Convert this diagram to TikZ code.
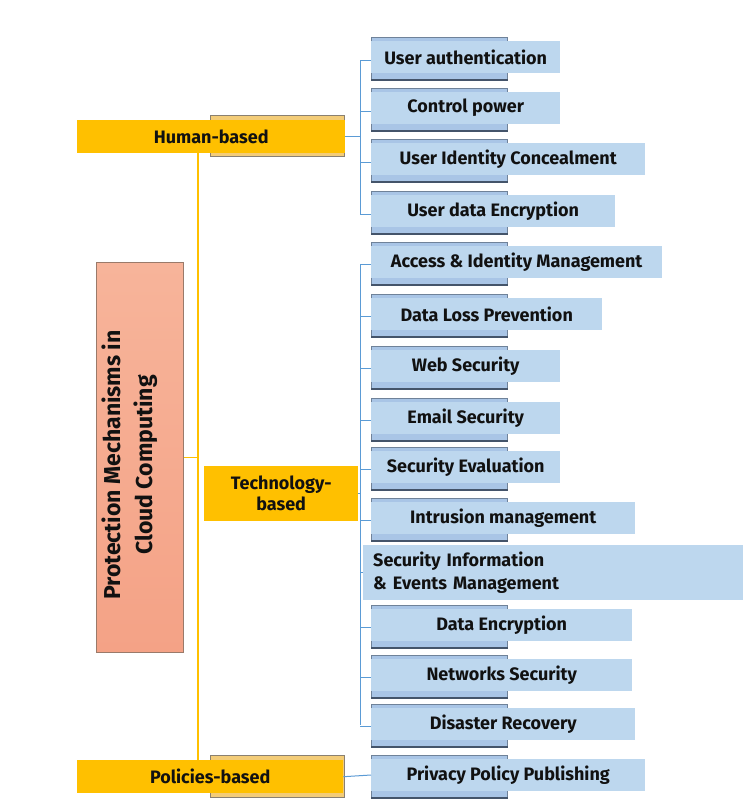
\documentclass[tikz,border=0pt]{standalone}
\usepackage{fontspec}
\setmainfont{Fira Sans}
\definecolor{barorange}{HTML}{FFC000}
\definecolor{backorange}{HTML}{F3CC78}
\definecolor{backedge}{HTML}{8A8070}
\definecolor{leaffront}{HTML}{BDD7EE}
\definecolor{leafback}{HTML}{A9C5E6}
\definecolor{leafedge}{HTML}{6F8299}
\definecolor{leafbase}{HTML}{44546A}
\definecolor{linkblue}{HTML}{5B9BD5}
\definecolor{rootfill}{HTML}{F4A286}
\definecolor{rootlight}{HTML}{F7B49A}
\definecolor{rootedge}{HTML}{9A7A6A}
\definecolor{ink}{HTML}{111111}
\begin{document}
\begin{tikzpicture}[x=1pt,y=-1pt,
  lbl/.style={font=\bfseries\fontsize{18}{22}\selectfont, text=ink},
  bar/.style={lbl, fill=barorange, inner sep=0pt},
  barback/.style={fill=backorange, draw=backedge, line width=0.8pt, inner sep=0pt},
  leafbox/.style={lbl, fill=leaffront, inner sep=0pt, minimum height=32},
  leafbackbox/.style={fill=leafback, draw=leafedge, line width=0.7pt, inner sep=0pt,
    minimum width=136, minimum height=42},
  trunk/.style={draw=barorange, line width=1.1pt},
  twig/.style={draw=linkblue, line width=1pt},
]
\useasboundingbox (0,0) rectangle (743,803);
\fill[white] (0,0) rectangle (743,803);

% a leaf: back plate with dark base line, then the label plate on top
\newcommand\leaf[4]{%
  \node[leafbackbox, anchor=north west] (#1b) at (371,#2-20) {};
  \draw[leafbase, line width=1.6pt] (#1b.south west) -- (#1b.south east);
  \node[leafbox, anchor=west, minimum width=#3-371] (#1) at (371,#2) {#4};
}

% root
\node[draw=rootedge, line width=0.8pt, top color=rootlight, bottom color=rootfill,
      minimum width=87, minimum height=390, anchor=north west, inner sep=0pt]
      (root) at (96,262) {};
\node[rotate=90, align=center, font=\bfseries\fontsize{23}{32}\selectfont, text=ink]
      (roottext) at (130,465) {Protection Mechanisms in\\Cloud Computing};

% category bars
\node[barback, minimum width=134, minimum height=41, anchor=north west] (humb) at (210,115) {};
\node[bar, minimum width=268, minimum height=33, anchor=north west] (hum) at (77,120) {Human-based};
\node[barback, minimum width=134, minimum height=42, anchor=north west] (polb) at (210,755) {};
\node[bar, minimum width=266, minimum height=33, anchor=north west] (pol) at (77,760) {Policies-based};
\node[bar, minimum width=154, minimum height=55, anchor=north west, align=center,
      font=\bfseries\fontsize{18}{21}\selectfont] (tech) at (204,466) {Technology-\\based};

% trunk
\coordinate (tx) at (198,0);
\draw[trunk] (hum.south -| tx) -- (pol.north -| tx);
\draw[trunk] (root.east) -- (root.east -| tx);

% human-based leaves
\leaf{u1}{57}{560}{User authentication}
\leaf{u2}{108}{560}{Control power}
\leaf{u3}{159}{645}{User Identity Concealment}
\leaf{u4}{211}{615}{User data Encryption}

% technology-based leaves
\leaf{t1}{262}{662}{Access \& Identity Management}
\leaf{t2}{314}{602}{Data Loss Prevention}
\leaf{t3}{366}{560}{Web Security}
\leaf{t4}{418}{560}{Email Security}
\leaf{t5}{467}{560}{Security Evaluation}
\leaf{t6}{518}{635}{Intrusion management}
\node[lbl, fill=leaffront, anchor=north west, minimum width=380, minimum height=55,
      text width=360, inner xsep=10pt, inner ysep=0pt, align=left,
      font=\bfseries\fontsize{18}{23}\selectfont]
      (t7) at (363,545) {Security Information\\\& Events Management};
\leaf{t8}{625}{632}{Data Encryption}
\leaf{t9}{675}{632}{Networks Security}
\leaf{t10}{724}{635}{Disaster Recovery}

% policies-based leaf
\leaf{p1}{775}{645}{Privacy Policy Publishing}

% human-based bracket
\coordinate (hx) at (360,0);
\draw[twig] (hum.east) -- (hum.east -| hx);
\draw[twig] ([yshift=-3pt]u1.west -| hx) -- ([yshift=-3pt]u4.west -| hx);
\foreach \n in {u1,u2,u3,u4}
  \draw[twig] ([yshift=-3pt]\n.west -| hx) -- ([yshift=-3pt]\n.west);

% technology-based bracket
\draw[twig] ([yshift=-2pt]t1.west -| hx) -- ([yshift=-1pt]t10.west -| hx);
\draw[twig] (tech.east) -- (tech.east -| hx);
\foreach \n in {t1,t2,t3,t4,t5,t6,t8,t9,t10}
  \draw[twig] ([yshift=-2pt]\n.west -| hx) -- ([yshift=-2pt]\n.west);
\draw[twig] (t7.west -| hx) -- (t7.west);

% policies-based link
\draw[twig] (pol.east) -- (p1.west);
\end{tikzpicture}
\end{document}
